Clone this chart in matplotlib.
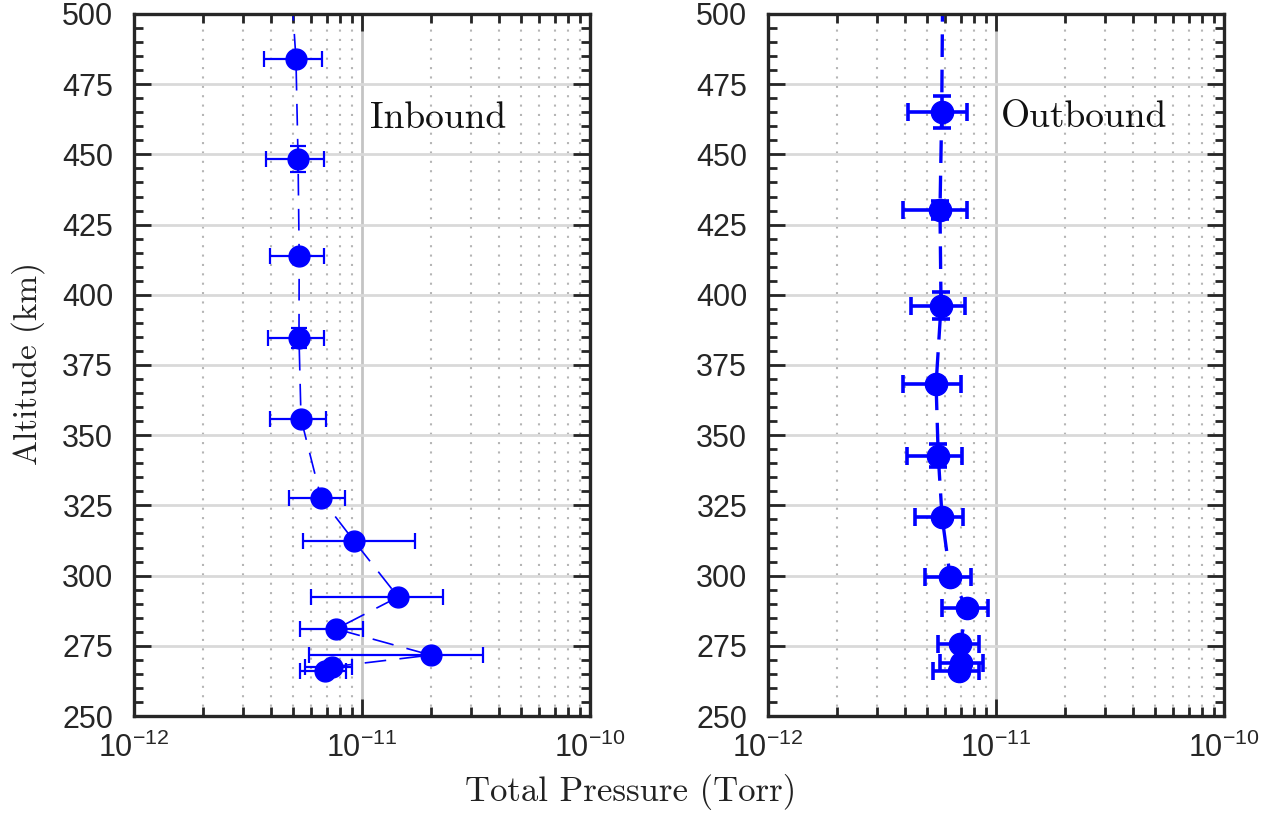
import numpy as np
import matplotlib
matplotlib.use('Agg')
import matplotlib.pyplot as plt
from matplotlib.ticker import MultipleLocator, FixedLocator, LogLocator, NullFormatter, FuncFormatter

# inbound leg (first entry sits above the plot top, only the line reaches in)
in_alt = [520, 484.0, 448.4, 413.8, 384.6, 355.8, 327.6, 312.3, 292.4, 281.0, 271.7, 267.5, 266.1]
in_p = [4.8e-12, 5.13e-12, 5.24e-12, 5.30e-12, 5.29e-12, 5.40e-12, 6.61e-12, 9.23e-12,
        14.4e-12, 7.69e-12, 20.0e-12, 7.36e-12, 6.88e-12]
in_lo = [4.8e-12, 3.72e-12, 3.79e-12, 3.95e-12, 3.87e-12, 3.95e-12, 4.78e-12, 5.51e-12,
         5.98e-12, 5.35e-12, 5.86e-12, 5.62e-12, 5.35e-12]
in_hi = [4.8e-12, 6.68e-12, 6.81e-12, 6.81e-12, 6.81e-12, 6.95e-12, 8.42e-12, 17.1e-12,
         22.7e-12, 10.1e-12, 33.9e-12, 9.04e-12, 8.51e-12]
in_dalt = [0, 0, 4.7, 0, 3.7, 0, 0, 0, 0, 0, 0, 0, 0]

# outbound leg
out_alt = [520, 465.1, 430.2, 396.1, 368.1, 342.7, 321.0, 299.6, 288.4, 275.5, 269.0, 266.1]
out_p = [5.85e-12, 5.78e-12, 5.68e-12, 5.74e-12, 5.46e-12, 5.58e-12, 5.80e-12, 6.29e-12,
         7.48e-12, 6.95e-12, 7.00e-12, 6.86e-12]
out_lo = [5.85e-12, 4.12e-12, 3.91e-12, 4.22e-12, 3.91e-12, 4.06e-12, 4.41e-12, 4.88e-12,
          5.78e-12, 5.55e-12, 5.67e-12, 5.29e-12]
out_hi = [5.85e-12, 7.46e-12, 7.46e-12, 7.31e-12, 7.00e-12, 7.12e-12, 7.14e-12, 7.74e-12,
          9.25e-12, 8.42e-12, 8.77e-12, 8.42e-12]
out_dalt = [0, 5.7, 3.2, 4.8, 0, 4.0, 0, 0, 0, 0, 0, 0]

x_ticks = [1e-12, 1e-11, 1e-10]

ink = '#262626'
blue = '#0000ff'

plt.rcParams['font.family'] = ['Liberation Sans', 'DejaVu Sans']

fig = plt.figure(figsize=(12.73, 8.13), dpi=100)
ax1 = fig.add_axes([0.1053, 0.1193, 0.3582, 0.8635])
ax2 = fig.add_axes([0.6033, 0.1193, 0.3582, 0.8635])


def log_label(v, pos):
    e = int(round(np.log10(v)))
    return r'$\mathdefault{10^{%d}}$' % e


def style_axes(ax):
    ax.set_xscale('log')
    ax.set_xlim(1e-12, 1e-10)
    ax.set_ylim(250, 500)
    ax.yaxis.set_major_locator(MultipleLocator(25))
    ax.yaxis.set_minor_locator(MultipleLocator(5))
    ax.xaxis.set_major_locator(FixedLocator(x_ticks))
    ax.xaxis.set_minor_locator(LogLocator(base=10, subs=np.arange(2, 10)))
    ax.xaxis.set_major_formatter(FuncFormatter(log_label))
    ax.xaxis.set_minor_formatter(NullFormatter())
    ax.set_axisbelow(True)
    ax.grid(axis='y', which='major', color='#d9d9d9', lw=2, ls='-')
    ax.grid(axis='x', which='major', color='#c4c4c4', lw=2, ls='-')
    ax.grid(axis='x', which='minor', color='#b5b5b5', lw=1.5, ls=(0, (1, 3.5)))
    for s in ax.spines.values():
        s.set_color(ink)
        s.set_linewidth(2.4)
    ax.tick_params(which='both', direction='in', top=True, right=True, color=ink,
                   width=2, labelcolor=ink)
    ax.tick_params(which='major', length=12)
    ax.tick_params(which='minor', length=6.5)
    ax.tick_params(axis='y', labelsize=22, pad=15)
    ax.tick_params(axis='x', labelsize=22, pad=12)


style_axes(ax1)
style_axes(ax2)

in_p_arr = np.array(in_p)
ax1.errorbar(in_p, in_alt,
             xerr=[in_p_arr - np.array(in_lo), np.array(in_hi) - in_p_arr],
             yerr=in_dalt, fmt='o', color=blue, ms=15, lw=1.2,
             ls=(0, (13, 8)), elinewidth=1.6, capsize=6, capthick=1.6, clip_on=True)

out_p_arr = np.array(out_p)
ax2.errorbar(out_p, out_alt,
             xerr=[out_p_arr - np.array(out_lo), np.array(out_hi) - out_p_arr],
             yerr=out_dalt, fmt='o', color=blue, ms=16, lw=2.4,
             ls=(0, (6.8, 3.8)), elinewidth=2.6, capsize=6.5, capthick=2.6, clip_on=True)

ax1.text(0.5175, 0.852, 'Inbound', transform=ax1.transAxes, ha='left', va='center',
         fontsize=27, family='cmr10', color='#111111')
ax2.text(0.511, 0.853, 'Outbound', transform=ax2.transAxes, ha='left', va='center',
         fontsize=27, family='cmr10', color='#111111')

fig.text(0.022, 0.553, 'Altitude (km)', rotation=90, ha='center', va='center',
         fontsize=24, family='cmr10', color='#222222')
fig.text(0.495, 0.026, 'Total Pressure (Torr)', ha='center', va='center',
         fontsize=25, family='cmr10', color='#222222')

fig.savefig('out.png', dpi=100)
